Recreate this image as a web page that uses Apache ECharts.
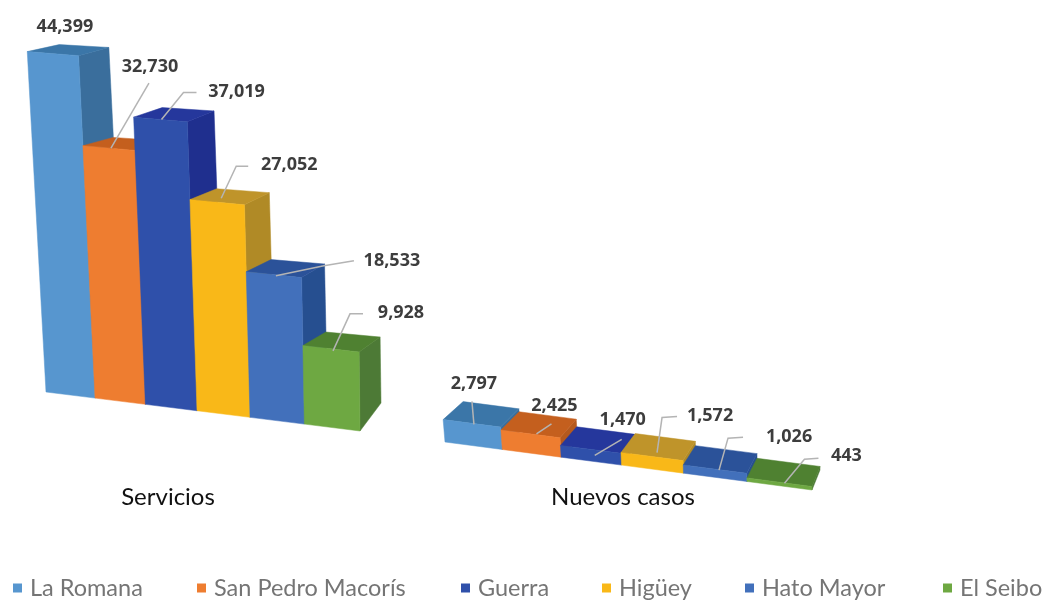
<!DOCTYPE html>
<html>
<head>
<meta charset="utf-8">
<style>html,body{margin:0;padding:0;background:#fff}#c{width:1047px;height:601px}</style>
<script src="https://cdn.jsdelivr.net/npm/echarts@6/dist/echarts.min.js"></script>
</head>
<body>
<div id="c"></div>
<script>
const regions = ['La Romana', 'San Pedro Macorís', 'Guerra', 'Higüey', 'Hato Mayor', 'El Seibo'];
const servicios = [44399, 32730, 37019, 27052, 18533, 9928];
const nuevosCasos = [2797, 2425, 1470, 1572, 1026, 443];
const panelTitles = ['Servicios', 'Nuevos casos'];

const frontColors = ['#5796cf', '#ee7d30', '#2f50aa', '#f9b818', '#4270bb', '#6ea842'];
const topColors = ['#3b76a8', '#c45f1e', '#25379c', '#bf942a', '#2b5299', '#4f8131'];
const sideColors = ['#3a6e9c', '#b5591d', '#1f2f8e', '#b08a26', '#264f90', '#4d7a36'];

const legendLefts = [8, 192, 456, 597, 740, 938];

// Leader line and label placement, relative to the middle of each bar's front top edge.
const leadersLeft = [
  { pts: [], label: [12, -27] },
  { pts: [[2, 0], [40, -65]], label: [41, -81] },
  { pts: [[1, 0], [23, -27], [36, -27]], label: [76, -28] },
  { pts: [[4, -4], [19, -36], [31, -36]], label: [72, -37] },
  { pts: [[2, 1], [50, -9], [80, -14]], label: [118, -14] },
  { pts: [[2, 2], [19, -35], [32, -35]], label: [70, -36] }
];
const leadersRight = [
  { pts: [[2, 1], [0, -22]], label: [2, -39] },
  { pts: [[6, 0], [21, -10]], label: [24, -28] },
  { pts: [[4, 6], [31, -10]], label: [32, -30] },
  { pts: [[5, -4], [10, -39], [25, -40]], label: [58, -41] },
  { pts: [[4, 1], [13, -31], [28, -32]], label: [74, -32] },
  { pts: [[5, 1], [25, -23], [39, -24]], label: [67, -26] }
];

// Perspective of each panel: the front plane's four corners and the depth vector.
const panels = [
  { values: servicios, axisMax: 45000, leaders: leadersLeft,
    grid: { left: 27, top: 50, width: 333, height: 380 },
    a: [46, 392], b: [360, 431], c: [356, 73], d: [27, 47],
    depth0: [32, -7], depth1: [21, -15], baseExtra: -13 },
  { values: nuevosCasos, axisMax: 3000, leaders: leadersRight,
    grid: { left: 443, top: 420, width: 370, height: 70 },
    a: [445, 442], b: [812, 490], c: [812, 466], d: [443, 418],
    depth0: [20, -18], depth1: [8, -20], baseExtra: 0 }
];

const lerp = (p, q, t) => [p[0] + (q[0] - p[0]) * t, p[1] + (q[1] - p[1]) * t];
const warp = u => u - 0.076 * u * (1 - u);

function makeRender(panel, regionIdx) {
  return function (params, api) {
    const g = params.coordSys;
    const i = api.value(0), v = api.value(1);
    const top = api.coord([i, v]), base = api.coord([i, 0]);
    const bw = api.size([1, 0])[0];
    const u0 = warp((top[0] - bw / 2 - g.x) / g.width);
    const u1 = warp((top[0] + bw / 2 - g.x) / g.width);
    const t = (base[1] - top[1]) / g.height;
    const project = (u, h) => lerp(lerp(panel.a, panel.b, u), lerp(panel.d, panel.c, u), h);
    const depth = u => lerp(panel.depth0, panel.depth1, u);
    const add = (p, d, extra) => [p[0] + d[0], p[1] + d[1] + (extra || 0)];

    const fl = project(u0, t), fr = project(u1, t);
    const bl = project(u0, 0), br = project(u1, 0);
    const d0 = depth(u0), d1 = depth(u1);
    const face = (points, fill) => ({
      type: 'polygon', shape: { points },
      style: { fill, stroke: fill, lineWidth: 0.5 }
    });
    const children = [
      face([fr, add(fr, d1), add(br, d1, panel.baseExtra), br], sideColors[regionIdx]),
      face([fl, add(fl, d0), add(fr, d1), fr], topColors[regionIdx]),
      face([fl, fr, br, bl], frontColors[regionIdx])
    ];
    const anchor = lerp(fl, fr, 0.5);
    const lead = panel.leaders[regionIdx];
    if (lead.pts.length) {
      children.push({
        type: 'polyline',
        shape: { points: lead.pts.map(p => [anchor[0] + p[0], anchor[1] + p[1]]) },
        style: { fill: 'none', stroke: '#b4b4b4', lineWidth: 1.5 }
      });
    }
    children.push({
      type: 'text',
      style: {
        x: anchor[0] + lead.label[0], y: anchor[1] + lead.label[1],
        text: v.toLocaleString('en-US'),
        align: 'center', verticalAlign: 'middle',
        font: 'bold 18px "Open Sans"', fill: '#3d3d3d'
      }
    });
    return { type: 'group', children };
  };
}

const series = [];
panels.forEach((panel, p) => {
  regions.forEach((name, r) => {
    series.push({
      type: 'custom', name,
      xAxisIndex: p, yAxisIndex: p,
      coordinateSystem: 'cartesian2d',
      itemStyle: { color: frontColors[r] },
      encode: { x: 0, y: 1 },
      z: 2 + r,
      clip: false,
      silent: true,
      data: [[r, panel.values[r]]],
      renderItem: makeRender(panel, r)
    });
  });
});

const chart = echarts.init(document.getElementById('c'), null, { renderer: 'canvas' });
chart.setOption({
  animation: false,
  backgroundColor: '#fff',
  title: [
    { text: panelTitles[0], left: 163, top: 480, textAlign: 'center',
      textStyle: { fontFamily: 'Lato', fontWeight: 'normal', fontSize: 24, color: '#111' } },
    { text: panelTitles[1], left: 618, top: 480, textAlign: 'center',
      textStyle: { fontFamily: 'Lato', fontWeight: 'normal', fontSize: 24, color: '#111' } }
  ],
  legend: regions.map((name, r) => ({
    data: [name], left: legendLefts[r], top: 571, icon: 'rect',
    itemWidth: 9, itemHeight: 9, selectedMode: false,
    textStyle: { fontFamily: 'Lato', fontSize: 23.5, color: '#757575', padding: [0, 0, 0, 3] }
  })),
  grid: panels.map(p => p.grid),
  xAxis: panels.map((p, n) => ({ type: 'category', gridIndex: n, data: regions, show: false })),
  yAxis: panels.map((p, n) => ({ type: 'value', gridIndex: n, min: 0, max: p.axisMax, show: false })),
  series
});
</script>
</body>
</html>
